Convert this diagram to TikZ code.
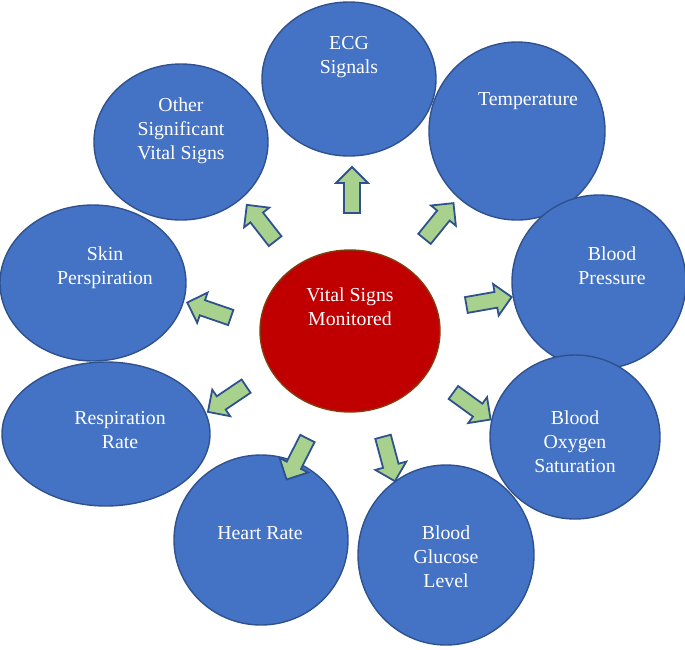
\documentclass[tikz,border=0pt]{standalone}
\usepackage{fontspec}
\setmainfont{Liberation Serif}
\usetikzlibrary{shapes.geometric}

\definecolor{signfill}{HTML}{4472C4}
\definecolor{signline}{HTML}{2F528F}
\definecolor{hubfill}{HTML}{C00000}
\definecolor{hubline}{HTML}{843C0C}
\definecolor{cuefill}{HTML}{A9D18E}

\tikzset{
  signbubble/.style={ellipse, draw=signline, line width=1.4pt, fill=signfill, inner sep=0pt},
  hubbubble/.style={ellipse, draw=hubline, line width=1.4pt, fill=hubfill, inner sep=0pt},
  % anchor=base sits on the baseline of the last line
  signtext/.style={text=white, font=\fontsize{19.8}{24}\selectfont, align=center, anchor=base, inner sep=0pt},
  cueline/.style={draw=signline, line width=1.8pt, fill=cuefill, line join=miter}
}

% block arrow: centre (#1,#2), pointing at angle #3
\newcommand{\cuearrow}[3]{%
  \draw[cueline, shift={(#1,#2)}, rotate=#3]
    (-23,-8) -- (7,-8) -- (7,-16) -- (23,0) -- (7,16) -- (7,8) -- (-23,8) -- cycle;}

\begin{document}
\begin{tikzpicture}[x=1pt,y=-1pt]
  \useasboundingbox (0,0) rectangle (685,649);

  % central hub
  \node[hubbubble, minimum width=180pt, minimum height=162pt] (hub) at (350,331) {};
  \node[signtext] (hubtext) at (350,325) {Vital Signs\\Monitored};

  % surrounding vital signs
  \node[signbubble, minimum width=174pt, minimum height=154pt] (ecg)   at (349,79)  {};
  \node[signbubble, minimum width=176pt, minimum height=178pt] (temp)  at (517,131) {};
  \node[signbubble, minimum width=174pt, minimum height=174pt] (bp)    at (599,282) {};
  \node[signbubble, minimum width=170pt, minimum height=164pt] (spo)   at (575,437) {};
  \node[signbubble, minimum width=176pt, minimum height=180pt] (gluc)  at (446,555) {};
  \node[signbubble, minimum width=174pt, minimum height=170pt] (hr)    at (261,540) {};
  \node[signbubble, minimum width=208pt, minimum height=144pt] (resp)  at (106,434) {};
  \node[signbubble, minimum width=186pt, minimum height=156pt] (skin)  at (93,283)  {};
  \node[signbubble, minimum width=174pt, minimum height=156pt] (other) at (181,142) {};

  \node[signtext] (ecgtext)   at (349,73)  {ECG\\Signals};
  \node[signtext] (temptext)  at (528,105) {Temperature};
  \node[signtext] (bptext)    at (612,284) {Blood\\Pressure};
  \node[signtext] (spotext)   at (575,472) {Blood\\Oxygen\\Saturation};
  \node[signtext] (gluctext)  at (446,587) {Blood\\Glucose\\Level};
  \node[signtext] (hrtext)    at (260,539) {Heart Rate};
  \node[signtext] (resptext)  at (120,448) {Respiration\\Rate};
  \node[signtext] (skintext)  at (105,284) {Skin\\Perspiration};
  \node[signtext] (othertext) at (181,159) {Other\\Significant\\Vital Signs};

  % block arrows pointing outward from the hub
  \cuearrow{352}{190}{90}
  \cuearrow{439}{221}{51}
  \cuearrow{489}{301}{10}
  \cuearrow{472}{406}{-36}
  \cuearrow{389}{459}{-75}
  \cuearrow{297}{459}{-117}
  \cuearrow{227}{399}{-146}
  \cuearrow{209}{310}{161}
  \cuearrow{261}{223}{128}
\end{tikzpicture}
\end{document}
